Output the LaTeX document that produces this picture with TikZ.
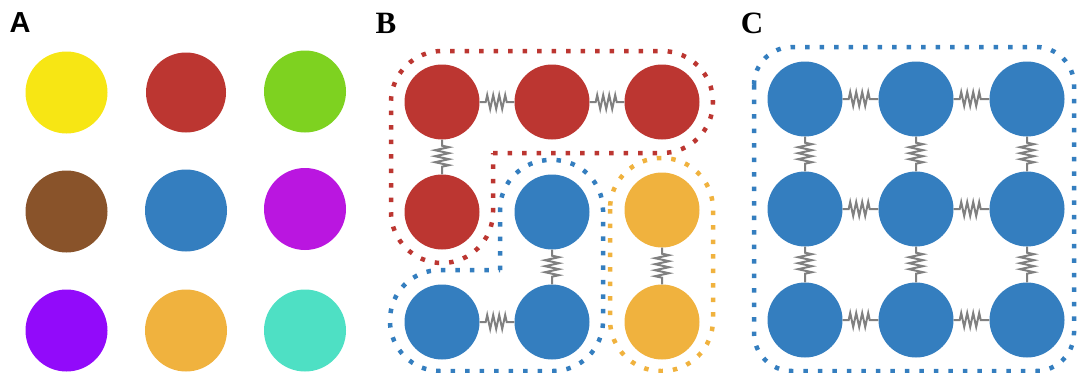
\documentclass[tikz,border=0pt]{standalone}
\usepackage{fontspec}
\newfontfamily\labsans{Liberation Sans}
\newfontfamily\labserif{Liberation Serif}
\usetikzlibrary{decorations.pathmorphing}
\definecolor{cyel}{RGB}{247,230,20}
\definecolor{cred}{RGB}{188,54,49}
\definecolor{cgreen}{RGB}{126,210,32}
\definecolor{cbrown}{RGB}{137,83,42}
\definecolor{cblue}{RGB}{52,126,191}
\definecolor{cmag}{RGB}{186,22,224}
\definecolor{cpurp}{RGB}{146,10,250}
\definecolor{corange}{RGB}{240,178,62}
\definecolor{cteal}{RGB}{78,224,196}
\definecolor{cgray}{RGB}{128,128,128}
\tikzset{
  bigdot/.style={circle,inner sep=0pt,minimum size=82pt,fill=#1},
  ball/.style={circle,inner sep=0pt,minimum size=75pt,fill=#1},
  spring/.style={draw=cgray,line width=2pt,decorate,
    decoration={zigzag,segment length=6pt,amplitude=7pt,pre length=6pt,post length=6pt}},
  group/.style={draw=#1,line width=4.5pt,dash pattern=on 4.5pt off 10pt},
  lab/.style={inner sep=0pt,anchor=center}
}
\begin{document}
\begin{tikzpicture}[x=1pt,y=-1pt]
\useasboundingbox (0,0) rectangle (1078,372);
% labels
\node[lab,font=\labsans\bfseries\fontsize{29}{29}\selectfont] (la) at (20,23) {A};
\node[lab,font=\labserif\bfseries\fontsize{31}{31}\selectfont] (lb) at (386,23) {B};
\node[lab,font=\labserif\bfseries\fontsize{31}{31}\selectfont] (lc) at (752,23) {C};
% panel A
\node[bigdot=cyel] (a11) at (66.5,92.5) {};
\node[bigdot=cred,minimum size=80pt] (a12) at (186,92.5) {};
\node[bigdot=cgreen] (a13) at (305,91.5) {};
\node[bigdot=cbrown] (a21) at (66.5,211.5) {};
\node[bigdot=cblue] (a22) at (186,210.5) {};
\node[bigdot=cmag] (a23) at (305,209) {};
\node[bigdot=cpurp] (a31) at (66.5,330.5) {};
\node[bigdot=corange] (a32) at (186,330.5) {};
\node[bigdot=cteal] (a33) at (305,330.5) {};
% panel B groups
\draw[group=cred,rounded corners=51pt] (493,153) -- (713,153) -- (713,51) -- (391,51) -- (391,263) -- (493,263) -- (493,153);
\draw[group=cblue,rounded corners=50pt] (500,270) -- (500,160) -- (603,160) -- (603,371) -- (390,371) -- (390,270) -- (500,270);
\draw[group=corange,rounded corners=51pt] (610,158) rectangle (713,371);
% panel B balls
\node[ball=cred] (b11) at (442,102) {};
\node[ball=cred] (b12) at (552,102) {};
\node[ball=cred] (b13) at (662,102) {};
\node[ball=cred] (b21) at (442,212) {};
\node[ball=cblue] (b22) at (552,212) {};
\node[ball=corange] (b23) at (662,210) {};
\node[ball=cblue] (b31) at (442,322) {};
\node[ball=cblue] (b32) at (552,322) {};
\node[ball=corange] (b33) at (662,322) {};
\draw[spring] (b11) -- (b12);
\draw[spring] (b12) -- (b13);
\draw[spring] (b11) -- (b21);
\draw[spring] (b22) -- (b32);
\draw[spring] (b31) -- (b32);
\draw[spring] (b23) -- (b33);
% panel C
\draw[group=cblue,rounded corners=38pt] (754,47) rectangle (1074,371);
\foreach \r/\y in {1/99,2/209,3/320}{
  \foreach \c/\x in {1/805,2/916,3/1027}{
    \node[ball=cblue] (c\r\c) at (\x,\y) {};
  }
}
\foreach \r in {1,2,3}{
  \draw[spring] (c\r1) -- (c\r2);
  \draw[spring] (c\r2) -- (c\r3);
  \draw[spring] (c1\r) -- (c2\r);
  \draw[spring] (c2\r) -- (c3\r);
}
\end{tikzpicture}
\end{document}
